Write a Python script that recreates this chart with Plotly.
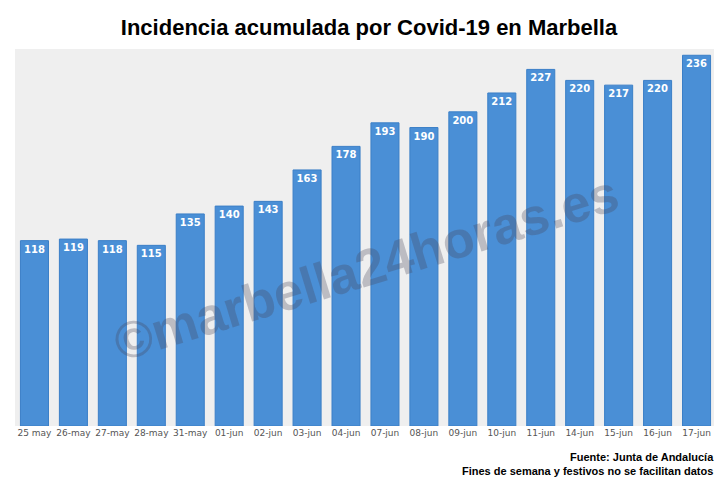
import plotly.graph_objects as go

fechas = ["25 may", "26-may", "27-may", "28-may", "31-may", "01-jun", "02-jun", "03-jun",
          "04-jun", "07-jun", "08-jun", "09-jun", "10-jun", "11-jun", "14-jun", "15-jun",
          "16-jun", "17-jun"]
incidencia = [118, 119, 118, 115, 135, 140, 143, 163, 178, 193, 190, 200, 212, 227, 220, 217, 220, 236]

fig = go.Figure()
fig.add_trace(go.Bar(
    x=fechas, y=incidencia,
    text=incidencia, textposition="inside", insidetextanchor="end",
    textangle=0,
    textfont=dict(family="DejaVu Sans", size=10, color="white"),
    texttemplate="<b>%{text}</b>",
    marker=dict(color="#4a8fd6", line=dict(color="#3b7fc7", width=1)),
))

fig.add_annotation(
    x=0.5, y=0.42, xref="paper", yref="paper",
    text="<b>©marbella24horas.es</b>", showarrow=False, textangle=-17,
    font=dict(family="Liberation Sans", size=52, color="rgba(70,70,90,0.3)"),
)
fig.add_annotation(
    x=1, y=-0.062, xref="paper", yref="paper", xanchor="right", yanchor="top",
    text="<b>Fuente: Junta de Andalucía<br>Fines de semana y festivos no se facilitan datos</b>",
    showarrow=False, align="right",
    font=dict(family="Liberation Sans", size=11, color="black"),
)

fig.update_layout(
    width=722, height=477,
    title=dict(text="<b>Incidencia acumulada por Covid-19 en Marbella</b>", x=0.5, y=0.975,
               font=dict(family="Liberation Sans", size=22, color="black")),
    margin=dict(l=7, r=14, t=41, b=59),
    paper_bgcolor="white", plot_bgcolor="#efefef",
    bargap=0.28, showlegend=False,
    xaxis=dict(tickfont=dict(family="DejaVu Sans", size=9, color="#555"), showline=False),
    yaxis=dict(range=[0, 240], visible=False),
)
fig.write_html("out.html")
